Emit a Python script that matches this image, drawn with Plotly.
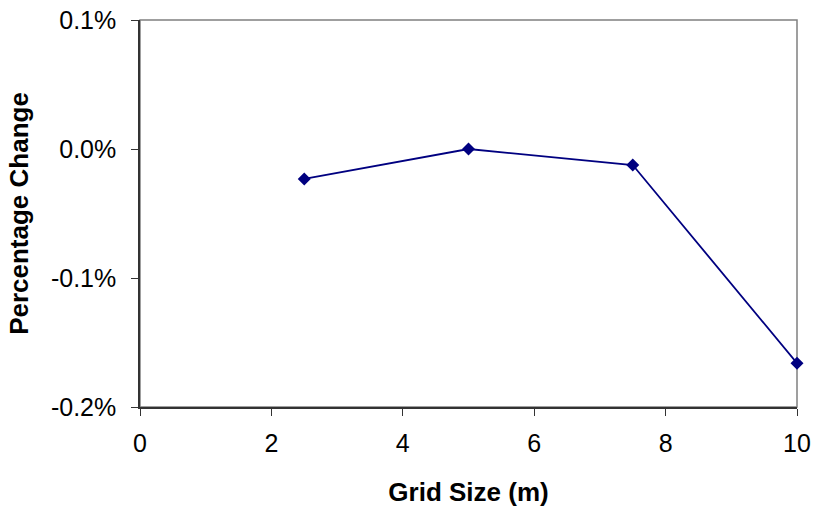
import plotly.graph_objects as go

grid_size = [2.5, 5, 7.5, 10]
pct_change = [-0.000232, 0.0, -0.000124, -0.00166]

x_ticks = [0, 2, 4, 6, 8, 10]
y_ticks = [-0.002, -0.001, 0.0, 0.001]
y_tick_labels = ["-0.2%", "-0.1%", "0.0%", "0.1%"]

fig = go.Figure()
fig.add_trace(go.Scatter(
    x=grid_size, y=pct_change, mode="lines+markers",
    line=dict(color="#000080", width=1.8),
    marker=dict(symbol="diamond", size=10, color="#000080"),
    cliponaxis=False, showlegend=False,
))

FAM = "Liberation Sans, Arial, sans-serif"
tick_font = dict(family=FAM, size=25, color="#000")
title_font = dict(family=FAM, size=26, color="#000")

fig.update_layout(
    width=816, height=512,
    margin=dict(l=140, r=19, t=20, b=105, autoexpand=False),
    paper_bgcolor="white", plot_bgcolor="white",
    font=tick_font,
    shapes=[dict(type="rect", xref="paper", yref="paper", x0=0, y0=0, x1=1, y1=1,
                 line=dict(color="#808080", width=1.5), layer="below")],
)
fig.update_xaxes(
    range=[0, 10], tickvals=x_ticks, ticks="outside", ticklen=7, tickcolor="#333",
    tickfont=tick_font, ticklabelstandoff=6, automargin=False,
    showgrid=False, zeroline=False, showline=True, linecolor="#333", linewidth=1.5,
    title=dict(text="<b>Grid Size (m)</b>", font=title_font, standoff=27),
)
fig.update_yaxes(
    range=[-0.002, 0.001], tickvals=y_ticks, ticktext=y_tick_labels,
    ticks="outside", ticklen=7, tickcolor="#333",
    tickfont=tick_font, ticklabelstandoff=10, automargin=False,
    showgrid=False, zeroline=False, showline=True, linecolor="#333", linewidth=1.5,
    title=dict(text="<b>Percentage Change</b>", font=title_font, standoff=15),
)

fig.write_html("out.html", config={"displayModeBar": False},
               post_script="document.body.style.margin='0';document.body.style.padding='0';")
